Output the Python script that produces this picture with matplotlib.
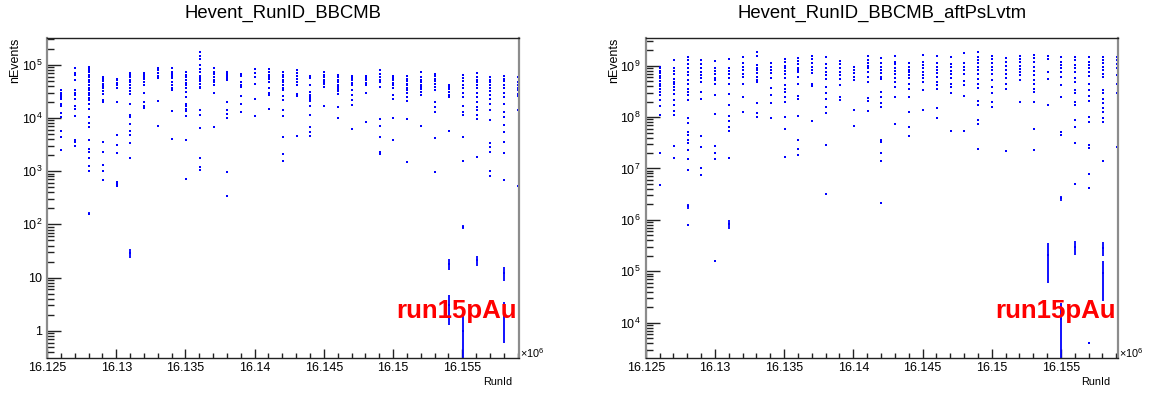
import numpy as np
import matplotlib
matplotlib.use("Agg")
import matplotlib.pyplot as plt
from matplotlib.ticker import LogLocator, NullFormatter, FixedLocator, MultipleLocator, FuncFormatter

plt.rcParams['font.family'] = ['Liberation Sans', 'DejaVu Sans']
plt.rcParams['mathtext.fontset'] = 'custom'
plt.rcParams['mathtext.rm'] = 'Liberation Sans'
plt.rcParams['mathtext.it'] = 'Liberation Sans:italic'

"""
DATA: events per run, grouped by day of year (run id = 16DDDNNN)
"""

days = list(range(125, 160))
run_in_day = 30

# Hevent_RunID_BBCMB: raw BBC minimum-bias counts per run
bbcmb_counts = [
    [3.4e4, 3.1e4, 2.9e4, 2.7e4, 9.5e3, 2.3e3],
    [3.3e4, 3.0e4, 2.74e4, 2.47e4, 2.24e4, 1.85e4, 1.67e4, 1.25e4, 1.04e4, 5.8e3, 4.4e3, 2.5e3],
    [8.7e4, 7.0e4, 6.5e4, 5.2e4, 3.3e4, 3.0e4, 2.74e4, 2.24e4, 1.72e4, 1.49e4, 1.11e4, 3.8e3, 3.5e3, 3.0e3],
    [9.1e4, 8.5e4, 7.9e4, 7.3e4, 6.5e4, 5.9e4, 5.3e4, 4.7e4, 4.2e4, 3.6e4, 3.3e4, 3.0e4, 2.66e4, 2.37e4,
     2.14e4, 1.85e4, 1.49e4, 1.04e4, 8.1e3, 6.7e3, 3.8e3, 2.6e3, 2.27e3, 1.75e3, 1.27e3, 1.02e3, 160],
    [5.9e4, 5.5e4, 4.9e4, 4.4e4, 4.0e4, 3.6e4, 3.2e4, 2.86e4, 2.14e4, 2.0e4, 3.6e3, 2.3e3, 1.3e3, 1.02e3, 690],
    [5.5e4, 5.1e4, 4.6e4, 4.1e4, 3.7e4, 2.0e4, 4.9e3, 3.1e3, 2.2e3, 620, 570, 530],
    [7.1e4, 6.5e4, 5.9e4, 5.3e4, 4.7e4, 4.2e4, 3.7e4, 3.2e4, 2.86e4, 1.85e4, 1.15e4, 1.04e4, 7.8e3, 5.6e3,
     4.8e3, 3.4e3, 1.75e3, 29],
    [7.1e4, 6.5e4, 5.9e4, 5.5e4, 4.7e4, 4.2e4, 3.0e4, 2.0e4, 1.67e4, 1.54e4],
    [8.7e4, 7.9e4, 7.1e4, 6.3e4, 5.6e4, 2.05e4, 7.2e3],
    [8.7e4, 7.5e4, 6.8e4, 6.2e4, 5.6e4, 4.7e4, 4.1e4, 3.7e4, 3.3e4, 1.33e4, 4.0e3],
    [7.3e4, 6.5e4, 5.9e4, 5.1e4, 4.6e4, 4.1e4, 3.7e4, 3.1e4, 2.47e4, 1.85e4, 1.72e4, 1.49e4, 1.33e4, 1.11e4,
     3.8e3, 710],
    [1.75e5, 1.47e5, 1.27e5, 9.8e4, 8.5e4, 7.3e4, 6.3e4, 5.9e4, 5.5e4, 4.9e4, 4.4e4, 3.8e4, 3.6e4, 1.39e4,
     1.16e4, 6.4e3, 1.75e3, 1.18e3, 1.07e3],
    [8.7e4, 7.5e4, 6.8e4, 5.9e4, 5.3e4, 4.7e4, 4.2e4, 3.0e4, 6.7e3],
    [7.5e4, 6.8e4, 6.2e4, 5.6e4, 5.1e4, 2.0e4, 1.39e4, 1.2e4, 9.9e3, 950, 340],
    [6.8e4, 6.2e4, 4.7e4, 4.1e4, 3.8e4, 2.58e4, 1.85e4, 1.29e4],
    [8.5e4, 7.1e4, 5.9e4, 4.4e4, 2.3e4, 1.11e4],
    [8.5e4, 7.3e4, 6.5e4, 5.9e4, 5.5e4, 4.7e4, 3.6e4, 3.0e4, 2.66e4, 1.45e4],
    [7.3e4, 6.5e4, 5.9e4, 5.3e4, 4.7e4, 4.2e4, 3.7e4, 3.3e4, 2.58e4, 2.14e4, 1.39e4, 1.11e4, 4.4e3, 2.1e3, 1.58e3],
    [7.9e4, 7.1e4, 6.3e4, 5.5e4, 4.7e4, 4.1e4, 2.86e4, 2.55e4, 4.55e3],
    [6.2e4, 5.6e4, 4.2e4, 3.1e4, 2.74e4, 2.47e4, 2.24e4, 2.05e4, 1.72e4, 1.16e4, 6.7e3, 5.4e3, 4.55e3],
    [7.5e4, 6.5e4, 5.9e4, 5.3e4, 4.7e4, 4.4e4, 3.8e4, 1.72e4],
    [6.5e4, 5.9e4, 5.3e4, 4.7e4, 4.2e4, 3.8e4, 3.45e4, 3.2e4, 2.86e4, 1.6e4, 9.9e3],
    [6.3e4, 5.6e4, 5.1e4, 4.6e4, 4.2e4, 3.3e4, 2.66e4, 2.14e4, 1.77e4, 6.1e3],
    [6.3e4, 5.6e4, 5.1e4, 4.6e4, 4.1e4, 3.0e4, 8.6e3],
    [7.9e4, 6.8e4, 5.9e4, 5.3e4, 4.7e4, 3.9e4, 9.4e3, 7.0e3, 4.4e3, 2.27e3, 2.1e3],
    [6.3e4, 5.6e4, 5.1e4, 4.6e4, 4.1e4, 3.7e4, 2.74e4, 2.3e4, 9.9e3, 3.9e3],
    [6.2e4, 5.5e4, 4.9e4, 4.4e4, 4.1e4, 3.7e4, 3.3e4, 3.0e4, 2.47e4, 2.05e4, 9.7e3, 1.47e3],
    [7.5e4, 5.9e4, 5.3e4, 4.7e4, 4.2e4, 3.8e4, 3.45e4, 3.1e4, 2.74e4, 7.0e3],
    [6.8e4, 6.2e4, 5.5e4, 4.9e4, 4.4e4, 3.8e4, 3.3e4, 2.0e4, 1.6e4, 1.29e4, 4.2e3, 980],
    [4.2e4, 3.8e4, 3.45e4, 3.1e4, 2.74e4, 2.47e4, 5.6e3, 18, 3],
    [6.5e4, 5.6e4, 4.9e4, 4.2e4, 3.7e4, 3.0e4, 2.47e4, 1.72e4, 1.29e4, 1.15e4, 4.4e3, 1.58e3, 90, 1],
    [7.1e4, 5.9e4, 5.3e4, 4.7e4, 4.1e4, 3.6e4, 3.0e4, 2.47e4, 2.0e4, 1.6e4, 1.39e4, 1.15e4, 9.4e3, 1.82e3, 21],
    [5.9e4, 5.3e4, 4.7e4, 4.2e4, 3.7e4, 3.2e4, 2.74e4, 2.3e4, 1.85e4, 1.39e4, 9.0e3, 3.4e3, 2.8e3, 2.3e3,
     1.02e3, 800],
    [6.2e4, 5.5e4, 4.9e4, 4.2e4, 3.6e4, 3.0e4, 2.47e4, 1.85e4, 1.29e4, 1.04e4, 7.4e3, 5.4e3, 3.5e3, 2.2e3,
     690, 12, 2],
    [5.9e4, 4.7e4, 4.1e4, 3.7e4, 3.3e4, 2.86e4, 2.58e4, 1.39e4, 520],
]

# Hevent_RunID_BBCMB_aftPsLvtm: prescale-corrected counts per run
aftps_counts = [
    [4.2e8, 3.0e8, 2.5e8, 2.0e8, 1.7e8, 1.18e8, 2.0e7],
    [9.6e8, 8.9e8, 8.0e8, 7.1e8, 6.4e8, 5.7e8, 5.1e8, 4.5e8, 4.0e8, 3.6e8, 3.1e8, 2.7e8, 2.15e8, 1.65e8,
     1.1e8, 2.0e7, 4.8e6],
    [1.29e9, 8.9e8, 8.0e8, 6.8e8, 5.5e8, 4.9e8, 4.4e8, 3.9e8, 3.4e8, 2.8e8, 2.2e8, 1.72e8, 1.3e8, 1.1e8,
     2.7e7, 1.6e7],
    [1.5e9, 1.29e9, 1.06e9, 8.9e8, 7.7e8, 6.6e8, 5.3e8, 4.4e8, 3.6e8, 3.1e8, 2.7e8, 2.15e8, 9.5e7, 7.6e7,
     5.2e7, 4.5e7, 3.6e7, 3.1e7, 2.3e7, 1.55e7, 9.3e6, 7.8e5],
    [1.29e9, 1.06e9, 9.2e8, 7.7e8, 6.6e8, 5.7e8, 4.9e8, 3.1e8, 2.3e8, 4.2e7, 2.6e7, 1.03e7, 7.5e6],
    [1.24e9, 8.9e8, 8.0e8, 6.8e8, 5.8e8, 5.3e8, 4.4e8, 2.7e8, 1.15e8, 2.7e7, 2.0e7, 1.55e7, 1.6e5],
    [1.35e9, 9.2e8, 8.0e8, 6.8e8, 5.8e8, 4.5e8, 2.8e8, 1.72e8, 1.06e8, 8.4e7, 6.5e7, 5.3e7, 1.6e7],
    [1.5e9, 1.11e9, 9.6e8, 8.2e8, 6.8e8, 6.1e8, 4.5e8, 2.5e8, 1.25e8],
    [1.87e9, 1.55e9, 1.03e9, 9.2e8, 8.2e8, 7.1e8, 6.1e8, 5.3e8, 4.8e8, 1.85e8, 1.18e8, 1.02e8],
    [1.11e9, 9.6e8, 8.2e8, 7.1e8, 5.7e8, 3.7e8, 2.7e8, 1.85e8, 9.5e7],
    [1.35e9, 1.17e9, 1.0e9, 8.9e8, 8.0e8, 6.8e8, 5.7e8, 4.2e8, 3.5e8, 3.05e8, 2.5e8, 2.0e8, 1.02e8, 5.9e7, 1.7e7],
    [1.43e9, 1.24e9, 1.06e9, 9.2e8, 8.2e8, 7.5e8, 6.1e8, 4.5e8, 2.6e8, 2.25e8, 1.06e8, 3.6e7, 2.4e7, 1.87e7],
    [1.55e9, 1.35e9, 1.11e9, 9.6e8, 8.2e8, 7.1e8, 4.5e8, 4.0e8, 8.4e7],
    [1.5e9, 1.06e9, 8.9e8, 7.7e8, 6.6e8, 5.5e8, 3.9e8, 3.0e8, 2.25e8, 1.6e8, 1.18e8, 2.9e7],
    [1.24e9, 1.06e9, 8.9e8, 7.7e8, 6.6e8, 5.5e8, 4.2e8, 2.5e8, 2.15e8],
    [9.6e8, 8.2e8, 7.1e8, 6.1e8, 5.3e8, 1.37e8, 6.8e7],
    [1.55e9, 1.29e9, 1.11e9, 1.0e9, 8.9e8, 7.7e8, 6.1e8, 4.9e8, 2.4e8, 2.1e8, 1.3e8],
    [1.43e9, 1.11e9, 9.6e8, 8.2e8, 7.1e8, 6.1e8, 5.5e8, 3.1e8, 2.5e8, 1.85e8, 1.6e8, 3.6e7, 3.3e7, 2.0e7,
     1.4e7, 2.1e6],
    [1.55e9, 1.2e9, 1.06e9, 9.2e8, 8.0e8, 6.8e8, 5.7e8, 4.8e8, 3.9e8, 2.5e8, 7.3e7],
    [1.11e9, 9.6e8, 8.2e8, 7.5e8, 6.6e8, 5.7e8, 4.4e8, 3.6e8, 2.5e8, 1.27e8, 6.5e7, 4.3e7],
    [1.61e9, 1.2e9, 1.03e9, 8.9e8, 7.7e8, 6.6e8, 5.7e8, 4.9e8, 3.4e8, 1.37e8],
    [1.55e9, 1.11e9, 9.6e8, 8.2e8, 7.1e8, 6.1e8, 4.9e8, 4.2e8, 3.6e8, 1.5e8, 9.5e7],
    [1.5e9, 1.06e9, 9.6e8, 8.0e8, 6.8e8, 5.7e8, 4.5e8, 3.9e8, 2.9e8, 5.4e7],
    [1.74e9, 1.11e9, 9.6e8, 8.2e8, 6.8e8, 5.1e8, 4.2e8, 2.6e8, 5.4e7],
    [1.81e9, 1.5e9, 1.29e9, 1.11e9, 9.6e8, 8.2e8, 6.8e8, 5.5e8, 4.5e8, 3.7e8, 2.05e8, 1.72e8, 8.8e7, 7.3e7, 2.4e7],
    [1.55e9, 1.35e9, 1.11e9, 9.6e8, 8.2e8, 6.8e8, 5.3e8, 3.9e8, 2.9e8, 2.0e8, 1.6e8],
    [1.43e9, 1.2e9, 1.0e9, 8.2e8, 6.8e8, 5.7e8, 4.5e8, 3.6e8, 2.2e7],
    [1.55e9, 1.35e9, 1.17e9, 1.0e9, 8.7e8, 7.5e8, 6.5e8, 5.3e8, 1.95e8],
    [1.61e9, 1.39e9, 1.17e9, 9.6e8, 8.0e8, 6.6e8, 5.3e8, 4.4e8, 3.6e8, 3.1e8, 1.95e8, 5.9e7, 2.3e7],
    [1.55e9, 1.35e9, 7.7e8, 5.5e8, 1.72e8],
    [1.5e9, 1.2e9, 1.03e9, 8.9e8, 7.5e8, 6.1e8, 4.2e8, 2.5e8, 5.2e7, 4.5e7],
    [1.5e9, 1.29e9, 1.03e9, 8.9e8, 7.7e8, 5.7e8, 4.8e8, 3.4e8, 2.9e8, 2.0e8, 1.72e8, 8.8e7, 6.5e7, 3.1e7, 4.9e6],
    [1.5e9, 1.2e9, 1.03e9, 8.9e8, 7.7e8, 6.4e8, 4.5e8, 3.3e8, 2.6e8, 2.1e8, 1.02e8, 7.9e7, 2.9e7, 2.5e7,
     7.7e6, 4.1e6, 4.1e3],
    [1.5e9, 1.29e9, 1.11e9, 9.6e8, 8.2e8, 6.8e8, 5.9e8, 3.4e8, 2.9e8, 2.3e8, 1.85e8, 1.48e8, 1.27e8, 9.5e7,
     7.9e7, 1.4e7],
    [1.5e9, 1.29e9, 1.06e9, 8.9e8, 6.6e8, 4.5e8, 3.0e8, 2.6e7],
]

# low-statistics runs in the prescaled histogram, with their bin errors
aftps_lowstat_days = [128, 131, 138, 154, 155, 155, 156, 158, 158]
aftps_lowstat_vals = [1.83e6, 8.3e5, 3.2e6, 2.1e5, 2.65e6, 1.2e4, 2.95e5, 2.85e5, 9.4e4]
aftps_lowstat_errs = [1.7e5, 1.7e5, 1.0e5, 1.5e5, 3.0e5, 1.2e4, 8.5e4, 8.5e4, 6.7e4]

left_ticks = [1, 10, 1e2, 1e3, 1e4, 1e5]
right_ticks = [1e4, 1e5, 1e6, 1e7, 1e8, 1e9]

RUN_MIN, RUN_MAX = 16125000, 16159100
W, H = 1153, 394


def flatten(counts):
    """
    Turns the per-day lists into run ids and counts.
    """
    runs, vals = [], []
    for day, day_counts in zip(days, counts):
        for c in day_counts:
            runs.append(16000000 + day * 1000 + run_in_day)
            vals.append(c)
    return np.array(runs, dtype=float), np.array(vals, dtype=float)


def power_label(v, pos):
    if v == 1:
        return '1'
    if v == 10:
        return '10'
    return r'$10^{%d}$' % int(round(np.log10(v)))


def style_pad(fig, ax, title, ylim, yticks, left_px):
    """
    ROOT-like frame: inward ticks, grey side frame, x10^6 exponent and labels.
    """
    ax.set_yscale('log')
    ax.set_xlim(RUN_MIN, RUN_MAX)
    ax.set_ylim(*ylim)

    ax.xaxis.set_major_locator(MultipleLocator(5000))
    ax.xaxis.set_minor_locator(MultipleLocator(1000))
    ax.xaxis.set_major_formatter(FuncFormatter(lambda v, p: ('%.3f' % (v / 1e6)).rstrip('0')))
    ax.yaxis.set_major_locator(FixedLocator(yticks))
    ax.yaxis.set_major_formatter(FuncFormatter(power_label))
    ax.yaxis.set_minor_locator(LogLocator(base=10, subs=np.arange(2, 10), numticks=30))
    ax.yaxis.set_minor_formatter(NullFormatter())

    ax.tick_params(axis='both', which='both', direction='in', top=False, right=False,
                   labelsize=9, color='#222222', width=1.0)
    ax.tick_params(axis='y', which='major', length=10, pad=3.5)
    ax.tick_params(axis='y', which='minor', length=5)
    ax.tick_params(axis='x', which='major', length=6.5, pad=3)
    ax.tick_params(axis='x', which='minor', length=3.6)

    for side in ['left', 'right']:
        ax.spines[side].set_color('#8c8c8c')
        ax.spines[side].set_linewidth(1.6)
    for side in ['top', 'bottom']:
        ax.spines[side].set_color('#222222')
        ax.spines[side].set_linewidth(1.0)

    bb = ax.get_position()
    xc = (bb.x0 + bb.x1) / 2
    fig.text(xc, 1 - 17.5 / H, title, ha='center', va='baseline', fontsize=13.3)
    fig.text((left_px + 1) / W, bb.y1, 'nEvents', rotation=90, ha='center', va='top', fontsize=9)
    fig.text(bb.x1 - 7 / W, 1 - 385 / H, 'RunId', ha='right', va='baseline', fontsize=7.8)
    ax.text(1.003, 0.0, r'$\times10^{6}$', transform=ax.transAxes, ha='left', va='baseline',
            fontsize=7.8)
    ax.text(0.996, 0.124, 'run15pAu', transform=ax.transAxes, ha='right', va='baseline',
            fontsize=18.6, fontweight='bold', color='#ff0000')


def plot_counts(ax, runs, vals, errs):
    """
    Draws run counts as small dots with vertical error bars.
    """
    lo = np.maximum(vals - errs, 1e-3)
    hi = vals + errs
    ax.vlines(runs, lo, hi, colors='#0000ff', linewidth=1.3)
    ax.plot(runs, vals, 's', color='#0000ff', markersize=1.5, markeredgewidth=0)


fig = plt.figure(figsize=(W / 100, H / 100), dpi=100)
ax_l = fig.add_axes([47 / W, 36 / H, 472 / W, 320 / H])
ax_r = fig.add_axes([645.7 / W, 36 / H, 472 / W, 320 / H])

runs_l, vals_l = flatten(bbcmb_counts)
plot_counts(ax_l, runs_l, vals_l, np.sqrt(vals_l))

runs_r, vals_r = flatten(aftps_counts)
plot_counts(ax_r, runs_r, vals_r, np.zeros_like(vals_r))
low_runs = np.array([16000000 + d * 1000 + run_in_day for d in aftps_lowstat_days], dtype=float)
plot_counts(ax_r, low_runs, np.array(aftps_lowstat_vals), np.array(aftps_lowstat_errs))

style_pad(fig, ax_l, 'Hevent_RunID_BBCMB', (0.307, 3.2e5), left_ticks, 14)
style_pad(fig, ax_r, 'Hevent_RunID_BBCMB_aftPsLvtm', (2055, 3.46e9), right_ticks, 613)

fig.savefig('out.png', dpi=100)
